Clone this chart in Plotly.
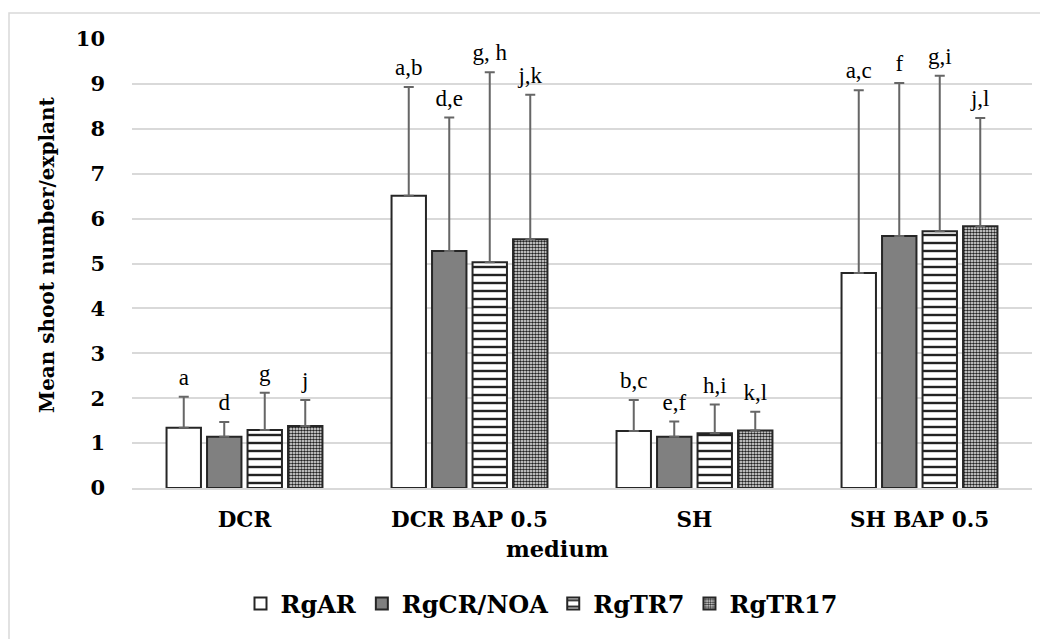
import plotly.graph_objects as go

media = ["DCR", "DCR BAP 0.5", "SH", "SH BAP 0.5"]
series = ["RgAR", "RgCR/NOA", "RgTR7", "RgTR17"]

means = {
    "RgAR":     [1.34, 6.51, 1.27, 4.79],
    "RgCR/NOA": [1.14, 5.28, 1.14, 5.61],
    "RgTR7":    [1.29, 5.03, 1.22, 5.72],
    "RgTR17":   [1.38, 5.54, 1.28, 5.83],
}
sd = {
    "RgAR":     [0.69, 2.42, 0.69, 4.07],
    "RgCR/NOA": [0.33, 2.97, 0.34, 3.41],
    "RgTR7":    [0.83, 4.23, 0.64, 3.46],
    "RgTR17":   [0.58, 3.22, 0.42, 2.41],
}
letters = {
    "RgAR":     ["a", "a,b", "b,c", "a,c"],
    "RgCR/NOA": ["d", "d,e", "e,f", "f"],
    "RgTR7":    ["g", "g, h", "h,i", "g,i"],
    "RgTR17":   ["j", "j,k", "k,l", "j,l"],
}

BOLD = "DejaVu Serif"
REG = "Liberation Serif"
OUTLINE = "#262626"
ERRC = "#666666"

styles = {
    "RgAR": dict(color="white"),
    "RgCR/NOA": dict(color="#808080"),
    "RgTR7": dict(color="white", pattern=dict(shape="-", size=8, solidity=0.3,
                                               fgcolor="#222222", fgopacity=1,
                                               fillmode="overlay")),
    "RgTR17": dict(color="white", pattern=dict(shape=".", size=3, solidity=0.6,
                                                fgcolor="#222222", fgopacity=1,
                                                fillmode="overlay")),
}

fig = go.Figure()
for s in series:
    fig.add_trace(go.Bar(
        name=s, x=media, y=means[s], offsetgroup=s,
        marker=dict(line=dict(color=OUTLINE, width=2), **styles[s]),
        error_y=dict(type="data", symmetric=False, array=sd[s],
                     arrayminus=[0] * len(media), color=ERRC, thickness=2, width=5),
    ))
for s in series:
    tops = [m + e for m, e in zip(means[s], sd[s])]
    fig.add_trace(go.Scatter(
        x=media, y=tops, offsetgroup=s, mode="markers+text", text=letters[s],
        marker=dict(size=8, color="rgba(0,0,0,0)"),
        textposition="top center", textfont=dict(family=REG, size=23, color="black"),
        showlegend=False, hoverinfo="skip", cliponaxis=False,
    ))

fig.update_layout(
    width=1040, height=639,
    margin=dict(l=132, r=8, t=39, b=151),
    paper_bgcolor="white", plot_bgcolor="white",
    barmode="group", bargap=0.28, bargroupgap=0.15,
    scattermode="group", scattergap=0.28,
    font=dict(family=BOLD, color="black"),
    showlegend=True,
    legend=dict(orientation="h", x=0.455, xanchor="center", y=-0.258, yanchor="middle",
                font=dict(family=BOLD, size=24, color="black", weight="bold"),
                itemwidth=30, traceorder="normal"),
    xaxis=dict(type="category", categoryorder="array", categoryarray=media,
               tickfont=dict(family=BOLD, size=21.5, color="black", weight="bold"),
               showline=True, linecolor="#d9d9d9", linewidth=1.5,
               ticks="", ticklabelstandoff=11),
    yaxis=dict(range=[0, 10], dtick=1, showgrid=True, gridcolor="#d9d9d9", gridwidth=1.5,
               zeroline=False, showline=False, ticks="", ticklabelstandoff=26,
               tickfont=dict(family=BOLD, size=21, color="black", weight="bold")),
    annotations=[
        dict(text="medium", xref="paper", yref="paper",
             x=(557 - 132) / 900, y=(488 - 549) / 449,
             xanchor="center", yanchor="middle", showarrow=False,
             font=dict(family=BOLD, size=22.5, color="black", weight="bold")),
        dict(text="Mean shoot number/explant", xref="paper", yref="paper",
             x=(47 - 132) / 900, y=(488 - 255) / 449, textangle=-90,
             xanchor="center", yanchor="middle", showarrow=False,
             font=dict(family=BOLD, size=20, color="black", weight="bold")),
    ],
    shapes=[dict(type="rect", xref="paper", yref="paper",
                 x0=(9 - 132) / 900, x1=(1045 - 132) / 900,
                 y0=(488 - 645) / 449, y1=(488 - 13) / 449,
                 line=dict(color="#d9d9d9", width=1.5), fillcolor="rgba(0,0,0,0)",
                 layer="below")],
)

fig.write_html("out.html")
